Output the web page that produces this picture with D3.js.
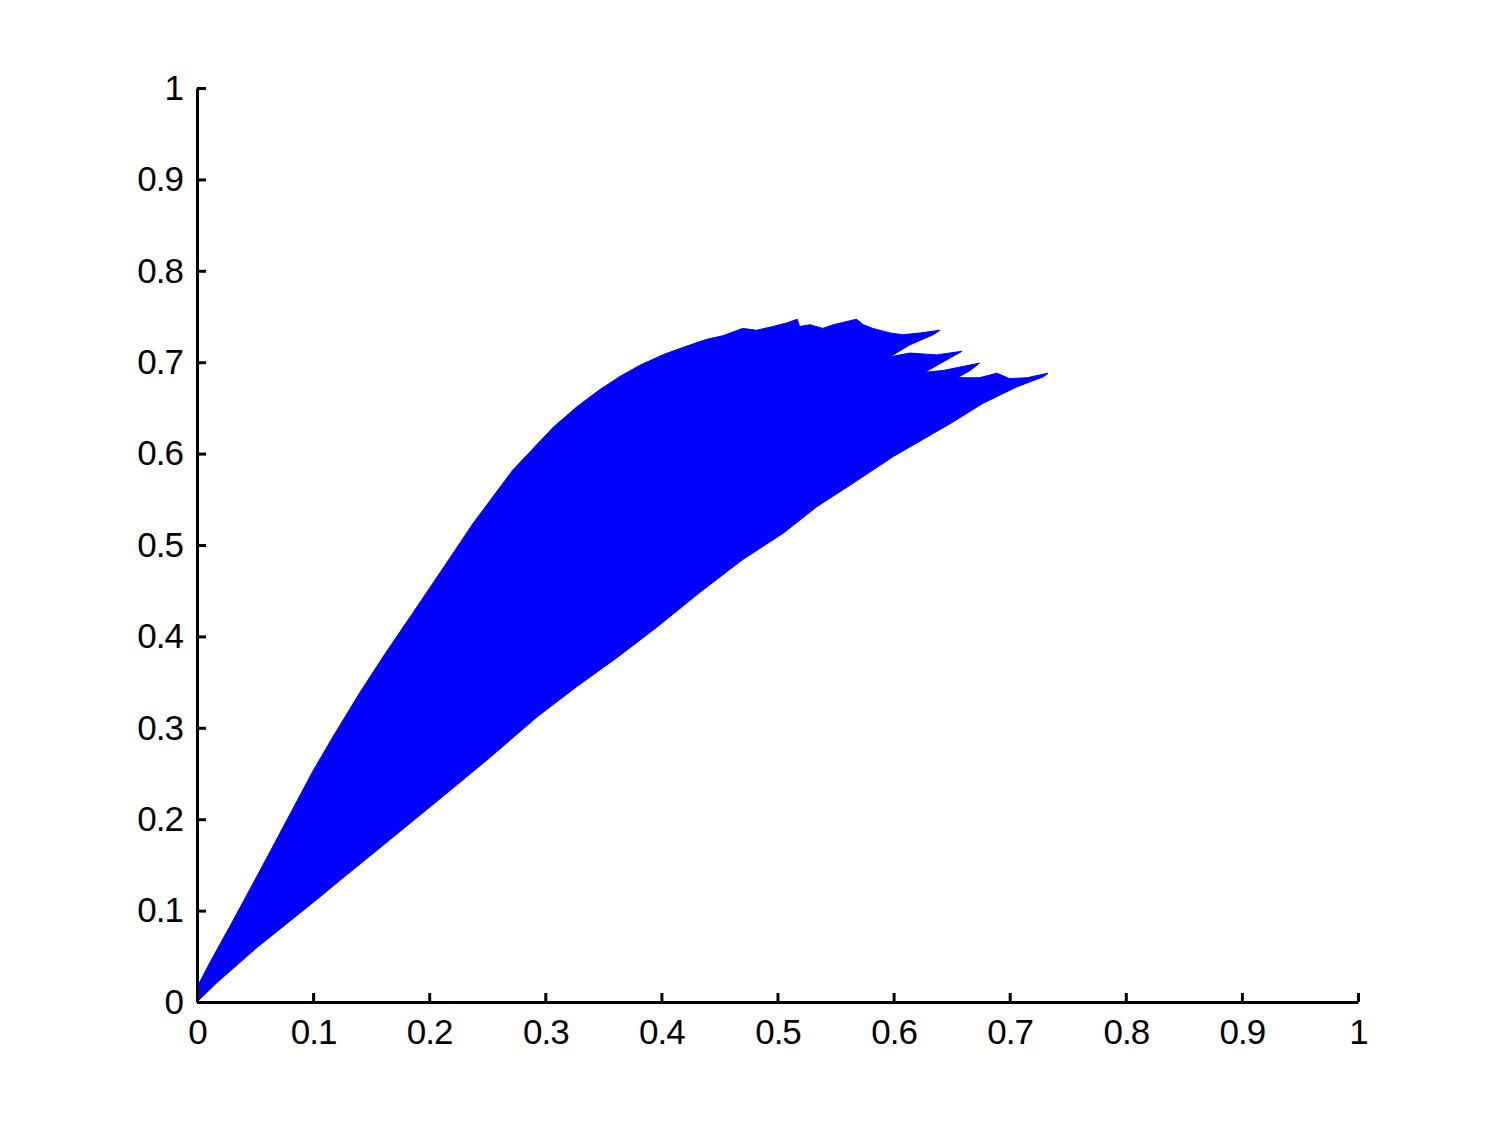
<!DOCTYPE html>
<html>
<head>
<meta charset="utf-8">
<script src="https://cdn.jsdelivr.net/npm/d3@7"></script>
<style>
  body { margin: 0; background: #fff; }
  .axis text { font-family: "Liberation Sans", Arial, sans-serif; font-size: 35px; letter-spacing: -1px; fill: #000; }
  .axis path, .axis line { stroke: #000; stroke-width: 3; }
</style>
</head>
<body>
<div id="chart"></div>
<script>
// tick values and labels, same on both axes
const tickVals = [0, 0.1, 0.2, 0.3, 0.4, 0.5, 0.6, 0.7, 0.8, 0.9, 1];
const tickLabels = ["0", "0.1", "0.2", "0.3", "0.4", "0.5", "0.6", "0.7", "0.8", "0.9", "1"];

// upper / left edge of the filled region, from the origin out to the far tip
const upperX = [0, 0, 0.011, 0.028, 0.045, 0.064, 0.082, 0.100, 0.117, 0.140, 0.162, 0.185, 0.210,
  0.238, 0.272, 0.307, 0.327, 0.347, 0.365, 0.382, 0.403,
  0.425, 0.439, 0.453, 0.470, 0.482, 0.496, 0.508, 0.517, 0.519, 0.528, 0.539, 0.548, 0.568, 0.574, 0.582,
  0.597, 0.608, 0.623, 0.640, 0.634, 0.614, 0.597, 0.614, 0.637, 0.659, 0.649, 0.627, 0.643, 0.674, 0.666,
  0.655, 0.674, 0.689, 0.700, 0.715, 0.733];
const upperY = [0, 0.016, 0.043, 0.082, 0.122, 0.167, 0.210, 0.253, 0.290, 0.338, 0.381, 0.424, 0.471,
  0.524, 0.582, 0.629, 0.651, 0.670, 0.685, 0.697, 0.709,
  0.719, 0.725, 0.729, 0.737, 0.735, 0.739, 0.743, 0.747, 0.739, 0.741, 0.737, 0.741, 0.747, 0.741, 0.737,
  0.732, 0.730, 0.732, 0.735, 0.730, 0.719, 0.706, 0.710, 0.708, 0.712, 0.705, 0.689, 0.691, 0.699, 0.691,
  0.683, 0.683, 0.688, 0.682, 0.683, 0.688];

// lower / right edge, from the origin out to the far tip
const lowerX = [0, 0.017, 0.052, 0.103, 0.123, 0.155, 0.209, 0.250, 0.293, 0.327, 0.362, 0.396, 0.433,
  0.470, 0.505, 0.534, 0.562, 0.600, 0.649, 0.677, 0.706, 0.729];
const lowerY = [0, 0.021, 0.060, 0.112, 0.133, 0.166, 0.222, 0.265, 0.312, 0.345, 0.377, 0.410, 0.448,
  0.484, 0.513, 0.542, 0.565, 0.597, 0.633, 0.655, 0.673, 0.684];

let intTotalWid = 1500;
let intTotalHgt = 1125;
let objMargin = { top: 88, right: 142, bottom: 123, left: 197 };
let intActiveWid = intTotalWid - objMargin.left - objMargin.right;
let intActiveHgt = intTotalHgt - objMargin.top - objMargin.bottom;

let svg = d3.select("#chart")
  .append("svg")
  .attr("width", intTotalWid)
  .attr("height", intTotalHgt);

svg.append("rect")
  .attr("width", intTotalWid)
  .attr("height", intTotalHgt)
  .attr("fill", "#fff");

let g = svg.append("g")
  .attr("transform", `translate(${objMargin.left}, ${objMargin.top})`);

let fnXScale = d3.scaleLinear().domain([0, 1]).range([0, intActiveWid]);
let fnYScale = d3.scaleLinear().domain([0, 1]).range([intActiveHgt, 0]);

// closed outline: up the top edge, back down the bottom edge
let arrPts = upperX.map((x, i) => [x, upperY[i]])
  .concat(lowerX.map((x, i) => [x, lowerY[i]]).reverse());

let fnLine = d3.line()
  .x(d => fnXScale(d[0]))
  .y(d => fnYScale(d[1]));

g.append("path")
  .attr("d", fnLine(arrPts) + "Z")
  .attr("fill", "#0000ff")
  .attr("stroke", "#0000ff")
  .attr("stroke-width", 1)
  .attr("stroke-linejoin", "round");

// axes, ticks point inward
let fnFmt = d => tickLabels[tickVals.indexOf(d)];

g.append("g")
  .attr("class", "axis")
  .attr("transform", `translate(0, ${intActiveHgt})`)
  .call(d3.axisBottom(fnXScale).tickValues(tickVals).tickFormat(fnFmt)
    .tickSizeInner(-9).tickSizeOuter(0).tickPadding(17));

g.append("g")
  .attr("class", "axis")
  .call(d3.axisLeft(fnYScale).tickValues(tickVals).tickFormat(fnFmt)
    .tickSizeInner(-9).tickSizeOuter(0).tickPadding(14));
</script>
</body>
</html>
